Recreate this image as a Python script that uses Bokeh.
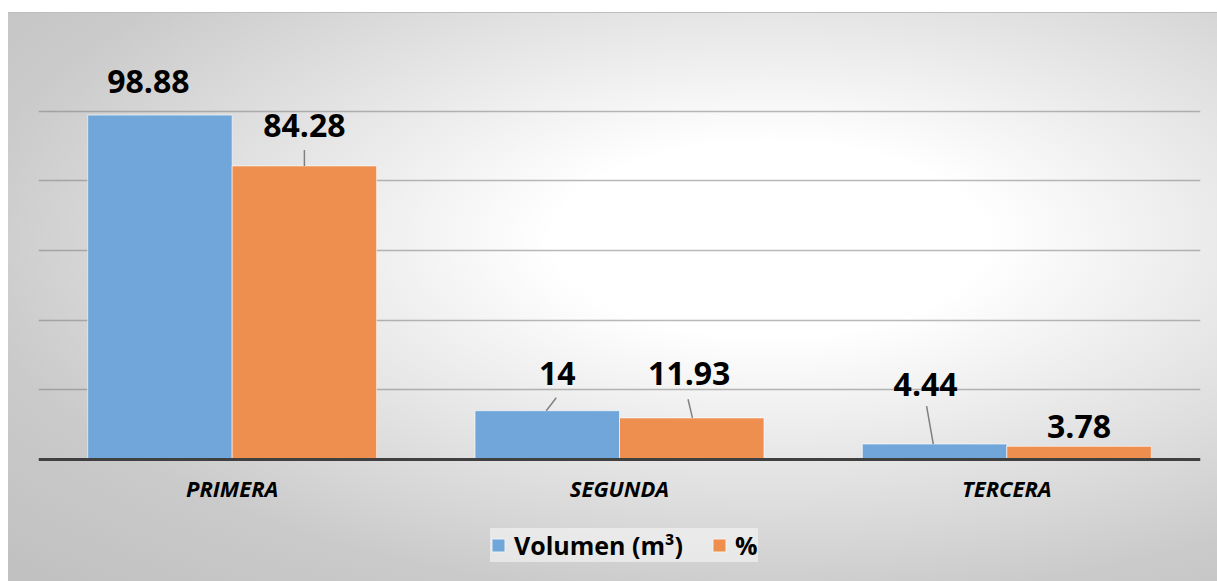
from bokeh.plotting import figure
from bokeh.models import (ColumnDataSource, FactorRange, Range1d, FixedTicker,
                          Legend, LegendItem, Span)
from bokeh.transform import dodge
from bokeh.core.properties import value
from bokeh.embed import file_html
from bokeh.resources import INLINE

# ---- data ----
categories = ["PRIMERA", "SEGUNDA", "TERCERA"]
volumen = [98.88, 14, 4.44]
porcentaje = [84.28, 11.93, 3.78]
series_names = ["Volumen (m³)", "%"]
y_ticks = [0, 20, 40, 60, 80, 100, 120]

# ---- styling / layout ----
W, H = 1217, 581
LEFT, RIGHT, TOP = 38, 17, 41
BASE_Y = 459            # screen row of the zero line
BAR_W = 0.373
OFF = 0.1865
BLUE = "#70a6d9"
ORANGE = "#ee8e4f"
FONT = "Open Sans"

frame_w = W - LEFT - RIGHT
px_per_cat = frame_w / len(categories)
px_per_unit = (BASE_Y - TOP) / (y_ticks[-1] - y_ticks[0])
y_min = -(H - BASE_Y) / px_per_unit      # room under the zero line for labels/legend

# label offsets in screen pixels (relative to the top-centre of each bar)
vol_dx = [-11.5, 10, -9]
vol_dy = [-34, -37, -60]
pct_dx = [0, -2.5, 0]
pct_dy = [-40, -44, -20]

# leader lines: (series index, category index, start dx, end dx, end dy) in px
leaders = [
    (1, 0, 0, 0, -16),
    (0, 1, -1, 9, -13),
    (1, 1, 0.7, -3.7, -18.7),
    (0, 2, -1.3, -8, -38),
]

bg = ("linear-gradient(#bdbdbd, #bdbdbd) 8px 12px / 1209px 1px no-repeat, "
      "radial-gradient(ellipse farthest-corner at 63% 40%, #ffffff 0%, #ffffff 20%, "
      "#cacaca 75%, #c0c0c0 100%) 8px 12px / 1209px 569px no-repeat, #ffffff")

p = figure(width=W, height=H, x_range=FactorRange(*categories, range_padding=0),
           y_range=Range1d(y_min, y_ticks[-1]),
           output_backend="svg", toolbar_location=None,
           min_border_left=LEFT, min_border_right=RIGHT,
           min_border_top=TOP, min_border_bottom=0,
           styles={"background": bg})
p.background_fill_color = None
p.border_fill_color = None
p.outline_line_color = None
p.xaxis.visible = False
p.yaxis.visible = False

# horizontal grid
p.ygrid.ticker = FixedTicker(ticks=y_ticks[1:])
p.ygrid.grid_line_color = "#808080"
p.ygrid.grid_line_alpha = 0.55
p.ygrid.grid_line_width = 1.5
p.xgrid.grid_line_color = None

src = ColumnDataSource(dict(cat=categories, vol=volumen, pct=porcentaje,
                            vol_lbl=[f"{v:g}" for v in volumen],
                            pct_lbl=[f"{v:g}" for v in porcentaje],
                            vol_dx=vol_dx, vol_dy=vol_dy,
                            pct_dx=pct_dx, pct_dy=pct_dy))

r_vol = p.vbar(x=dodge("cat", -OFF, range=p.x_range), top="vol", bottom=0,
               width=BAR_W, source=src, fill_color=BLUE, line_color="#ffffff",
               line_alpha=0.6, line_width=1)
r_pct = p.vbar(x=dodge("cat", OFF, range=p.x_range), top="pct", bottom=0,
               width=BAR_W, source=src, fill_color=ORANGE, line_color="#ffffff",
               line_alpha=0.6, line_width=1)

# category axis line at zero
p.add_layout(Span(location=0, dimension="width", line_color="#404040", line_width=3))

# category labels under the axis line
p.text(x="cat", y=0, text="cat", source=src, y_offset=28,
       text_font=value(FONT), text_font_style="bold italic", text_font_size="22px",
       text_color="#000000", text_align="center", text_baseline="alphabetic")

# leader lines from bar tops to their value labels
seg = dict(x0=[], y0=[], x1=[], y1=[])
for s, c, sdx, edx, edy in leaders:
    val = (volumen, porcentaje)[s][c]
    cx = c + 0.5 + (-OFF if s == 0 else OFF)
    seg["x0"].append(cx + sdx / px_per_cat)
    seg["y0"].append(val)
    seg["x1"].append(cx + edx / px_per_cat)
    seg["y1"].append(val - edy / px_per_unit)
p.segment(x0="x0", y0="y0", x1="x1", y1="y1", source=ColumnDataSource(seg),
          line_color="#808080", line_width=1.5)

# value labels
for xoff, top, lbl, dx, dy in ((-OFF, "vol", "vol_lbl", "vol_dx", "vol_dy"),
                               (OFF, "pct", "pct_lbl", "pct_dx", "pct_dy")):
    p.text(x=dodge("cat", xoff, range=p.x_range), y=top, text=lbl,
           x_offset=dx, y_offset=dy, source=src,
           text_font=value(FONT), text_font_style="bold", text_font_size="32px",
           text_color="#000000", text_align="center", text_baseline="alphabetic")

legend = Legend(items=[LegendItem(label=series_names[0], renderers=[r_vol]),
                       LegendItem(label=series_names[1], renderers=[r_pct])],
                orientation="horizontal",
                location=(490 - LEFT, H - 562),
                padding=9, margin=0, spacing=28, label_standoff=8,
                glyph_width=16, glyph_height=16,
                label_text_font=FONT, label_text_font_style="bold",
                label_text_font_size="25px", label_text_color="#000000",
                background_fill_color="#f6f6f6", background_fill_alpha=0.6,
                border_line_color=None)
p.add_layout(legend)

open("out.html", "w").write(file_html(p, INLINE))
